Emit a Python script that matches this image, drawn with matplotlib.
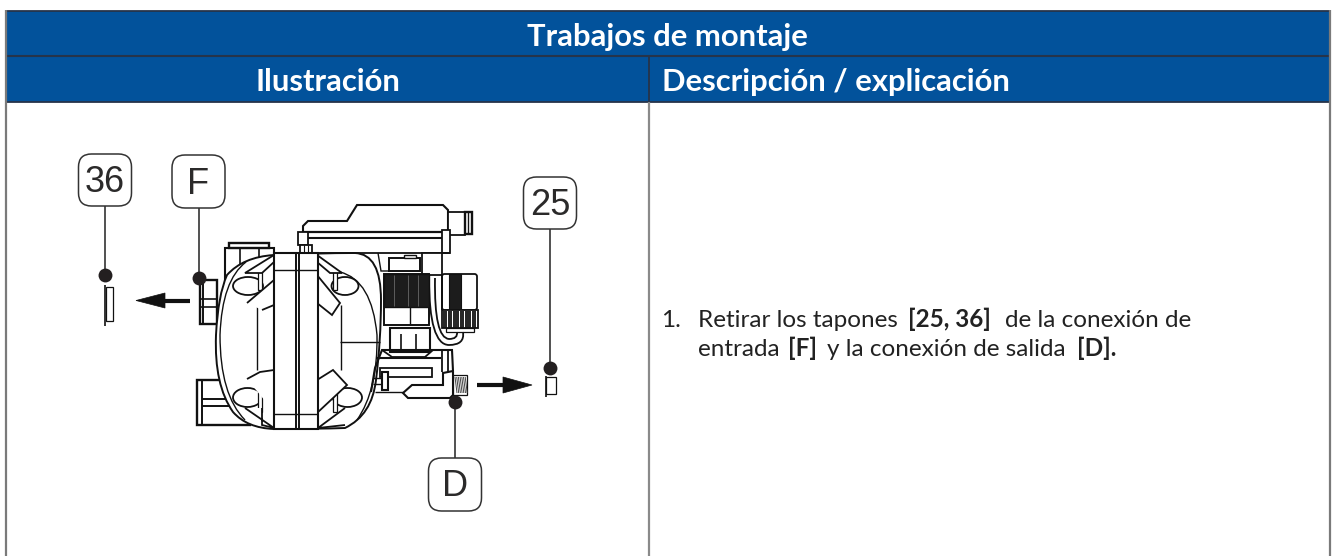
import matplotlib
matplotlib.use("Agg")
import matplotlib.pyplot as plt
from matplotlib.patches import Rectangle, Ellipse, FancyBboxPatch, PathPatch, Polygon
from matplotlib.path import Path

title = "Trabajos de montaje"
col_headers = ["Ilustración", "Descripción / explicación"]
step_number = "1."
line1 = [("Retirar los tapones", 698, "normal"), ("[25, 36]", 908, "bold"), ("de la conexión de", 1005, "normal")]
line2 = [("entrada", 698, "normal"), ("[F]", 788, "bold"), ("y la conexión de salida", 827, "normal"), ("[D].", 1077, "bold")]

# label, box x0, y0, x1, y1, end of the leader line
callouts = [("36", 78.5, 154, 131.5, 206, 105, 274.5),
            ("F", 172, 155, 225, 208, 198.5, 278),
            ("25", 523.5, 177, 576.5, 229, 550, 368),
            ("D", 428.5, 458, 481.5, 511, 455, 402)]

BLUE = "#02529b"
INK = "#111111"

fig = plt.figure(figsize=(13.35, 5.56), dpi=100)
ax = fig.add_axes([0, 0, 1, 1])
ax.set_xlim(0, 1335)
ax.set_ylim(556, 0)
ax.axis("off")


def line(pts, lw=1.2, color=INK, z=3):
    ax.plot([p[0] for p in pts], [p[1] for p in pts], color=color, lw=lw, zorder=z,
            solid_capstyle="butt", solid_joinstyle="miter")


def curve(pts, lw=1.2, z=3):
    # first point, then (control, end) pairs
    codes = [Path.MOVETO] + [Path.CURVE3] * (len(pts) - 1)
    ax.add_patch(PathPatch(Path(pts, codes), fc="none", ec=INK, lw=lw, zorder=z))


def rect(x0, y0, x1, y1, lw=1.2, fc="white", z=3):
    ax.add_patch(Rectangle((x0, y0), x1 - x0, y1 - y0, fc=fc, ec=INK, lw=lw, zorder=z))


def wing(pts, lw=1.3, z=5):
    ax.add_patch(Polygon(pts, closed=False, fc="white", ec=INK, lw=lw, zorder=z))


def hatch_v(x0, y0, x1, y1, step=1.6, lw=0.9, z=4):
    x = x0
    while x <= x1:
        line([(x, y0), (x, y1)], lw=lw, z=z)
        x += step


# table
ax.add_patch(Rectangle((5, 10.5), 1324.5, 91.5, fc=BLUE, ec="none", zorder=1))
line([(5, 11), (1330, 11)], 1.3, "#26344a", 2)
line([(5, 56), (1330, 56)], 1.5, "#26344a", 2)
line([(5, 102), (1330, 102)], 1.3, "#26344a", 2)
line([(649, 56), (649, 102)], 1.3, "#26344a", 2)
line([(649, 102), (649, 556)], 1.6, "#8a8a8a", 2)
line([(5.5, 10), (5.5, 556)], 1.6, "#7a7a7a", 2)
line([(1329.5, 10), (1329.5, 556)], 1.6, "#7a7a7a", 2)

ax.text(667.5, 46, title, color="white", fontsize=22.3, fontweight="bold", family="Lato", ha="center", va="baseline")
ax.text(328, 91, col_headers[0], color="white", fontsize=22.3, fontweight="bold", family="Lato", ha="center", va="baseline")
ax.text(662, 91, col_headers[1], color="white", fontsize=22.3, fontweight="bold", family="Lato", ha="left", va="baseline")

# description
ax.text(661, 327, step_number, color="#222222", fontsize=17.5, family="Lato", va="baseline")
for txt, x, w in line1:
    ax.text(x, 327, txt, color="#222222", fontsize=17.5, family="Lato", fontweight=w, va="baseline")
for txt, x, w in line2:
    ax.text(x, 356, txt, color="#222222", fontsize=17.5, family="Lato", fontweight=w, va="baseline")

# left fittings
rect(200, 280, 217, 324, 1.7)
line([(200, 299), (217, 299)])
line([(200, 307), (217, 307)])
line([(203, 281), (203, 324)], 1.4)
rect(225, 248, 274, 300, 1.5)
rect(229, 243, 269, 248, 1.7)
line([(240, 248), (240, 270)])
line([(259, 248), (259, 270)])
rect(197, 380, 250, 425, 1.7)
line([(202, 380), (202, 425)], 1.4)
line([(202, 399), (240, 399)], 1.4)
line([(202, 406), (240, 406)], 1.4)

# body outline
body_pts = [(274, 255), (243, 257), (227, 275), (218, 295), (216, 335), (214, 385), (233, 412), (247, 428), (274, 429),
            (318, 429), (345, 428), (372, 415), (376, 380), (381, 340), (381, 300), (381, 254), (355, 253), (317, 253), (274, 255)]
codes = [Path.MOVETO] + [Path.CURVE3] * 18
ax.add_patch(PathPatch(Path(body_pts, codes), fc="white", ec=INK, lw=1.4, zorder=3))
curve([(246, 262), (222, 280), (220, 335), (220, 395), (245, 420)], 1.0, 4)
curve([(340, 272), (372, 280), (377, 335), (378, 390), (357, 420)], 1.0, 4)
line([(340, 342), (380, 342)], 1.0)

# inner ribs, loops and wings
for x in (257, 341):
    line([(x, 305), (x, 370)], 1.0)
for cx, cy, w, h in [(248, 286, 30, 18), (345, 286, 27, 18), (247.5, 397.5, 29, 19), (347.5, 397.5, 29, 19)]:
    ax.add_patch(Ellipse((cx, cy), w, h, fc="white", ec=INK, lw=1.3, zorder=4))
rect(258, 270, 262, 290, 0.9, z=5)
rect(333, 270, 337, 290, 0.9, z=5)
rect(258, 392, 262, 412, 0.9, z=5)
rect(333, 392, 337, 412, 0.9, z=5)
for pts in [[(274, 255), (245, 273), (262, 273), (274, 262)],
            [(247, 303), (274, 280), (274, 305), (262, 310), (247, 303)],
            [(317, 255), (342, 273), (330, 273), (317, 262)],
            [(317, 275), (340, 303), (332, 315), (317, 303)],
            [(247, 379), (260, 372), (274, 370), (275, 413), (247, 379)],
            [(245, 408), (274, 428), (262, 425), (262, 408)],
            [(317, 380), (333, 370), (347, 385), (317, 413)],
            [(345, 408), (318, 428), (345, 425)]]:
    wing(pts)

# central flange
rect(274, 253, 318, 429, 1.5, z=6)
line([(296, 253), (296, 429)], 1.4, z=7)
line([(298.5, 253), (298.5, 429)], 1.4, z=7)
line([(274, 270), (318, 270)], 1.0, z=7)
line([(274, 414), (318, 414)], 1.0, z=7)

# top box
ax.add_patch(Polygon([(303, 238), (303, 226), (308, 221), (347, 221), (357, 205), (443, 205), (448, 210), (448, 238)],
                     fc="white", ec=INK, lw=1.5, zorder=3))
line([(303, 232), (448, 232)], 1.6)
rect(298, 232, 308, 245, 1.3)
rect(300, 245, 312, 253, 1.3)
line([(304, 245), (304, 253)], 0.8)
line([(308, 245), (308, 253)], 0.8)
rect(448, 212, 465, 235, 1.3)
rect(465, 212, 472, 234, 1.7)
line([(468, 212), (468, 234)], 1.0)
rect(442, 230, 450, 253, 1.3)
line([(317, 253), (450, 253)], 1.3)
rect(422, 253, 442, 275, 1.3)
rect(389, 258, 420, 271, 1.4)
rect(404, 255, 416, 258, 1.0)
line([(378, 253), (381, 271), (389, 271)], 1.0)

# motor parts
rect(384, 274, 429, 325, 1.4)
ax.add_patch(Rectangle((384, 274), 45, 33, fc="#1c1c1c", ec=INK, lw=1, zorder=4))
for x in (394, 408, 418):
    line([(x, 275), (x, 306)], 0.5, "#777777", 5)
line([(410, 307), (410, 325)], 1.0)
ax.add_patch(FancyBboxPatch((442, 274), 35, 36, boxstyle="round,pad=0,rounding_size=2.5", fc="white", ec=INK, lw=1.3, zorder=4))
ax.add_patch(Rectangle((449, 274), 12, 36, fc="#1c1c1c", ec=INK, lw=0.8, zorder=4))
line([(442, 274), (442, 310)], 1.4, z=5)
rect(442, 310, 478, 328, 1.3, z=4)
hatch_v(444, 310.5, 477, 327.5, 2.4, 1.3, z=5)
rect(446, 328, 474, 332, 0.9)
curve([(429, 278), (429, 345), (449, 345), (465, 345), (463, 332)], 1.3)
curve([(435, 278), (434, 338), (449, 339), (458, 339), (457, 332)], 1.3)

# base and outlet
rect(390, 328, 430, 352, 1.5)
line([(401, 334), (401, 350)], 1.2)
line([(416, 334), (416, 350)], 1.2)
line([(371, 392), (375, 368), (382, 350), (452, 350), (453, 371), (443, 373), (443, 385), (412, 385), (403, 393), (408, 398), (450, 398), (453, 395), (453, 372)], 1.5)
line([(375, 392), (403, 392)], 1.0)
line([(376, 358), (441, 358)], 1.5)
line([(382, 350), (392, 357), (425, 357), (433, 350)], 1.3)
rect(380, 368, 432, 377, 1.3)
rect(382, 372, 388, 390, 1.5)
line([(373, 378), (382, 378)], 1.0)
line([(373, 384), (382, 384)], 1.0)
line([(442, 351), (442, 372)], 1.3)
line([(448, 351), (448, 372)], 1.3)
rect(453, 375, 467, 395, 0.9)
for i in range(7):
    line([(455 + i * 1.7, 377), (457 + i * 1.7, 393)], 0.7, "#444444", 4)

# plugs
rect(105.5, 287, 113, 320.5, 0.9, z=3)
line([(105, 285), (105, 326)], 1.2)
rect(546, 377, 556, 394, 0.9, z=3)
line([(545.5, 376), (545.5, 397)], 1.2)

# arrows
ax.add_patch(Polygon([(136, 300.5), (165, 293), (165, 308)], fc=INK, ec=INK, lw=0.5, zorder=4))
line([(165, 300.5), (190, 300.5)], 3.0)
ax.add_patch(Polygon([(532, 385), (503, 377), (503, 393)], fc=INK, ec=INK, lw=0.5, zorder=4))
line([(477, 385), (503, 385)], 3.0)

# callouts
for label, x0, y0, x1, y1, lx, ly in callouts:
    ax.add_patch(FancyBboxPatch((x0, y0), x1 - x0, y1 - y0, boxstyle="round,pad=0,rounding_size=13",
                                fc="white", ec="#333333", lw=1.1, zorder=8))
    ax.text((x0 + x1) / 2, (y0 + y1) / 2 + 2.5, label, fontsize=26, family="Liberation Sans", color="#2b2a2a",
            ha="center", va="center", zorder=9)
    line([(lx, y1 if ly > y1 else y0), (lx, ly)], 1.2, "#333333", 8)
    ax.plot([lx], [ly], "o", ms=10, color="#231f20", mec="none", zorder=9)

fig.savefig("out.png", dpi=100)
